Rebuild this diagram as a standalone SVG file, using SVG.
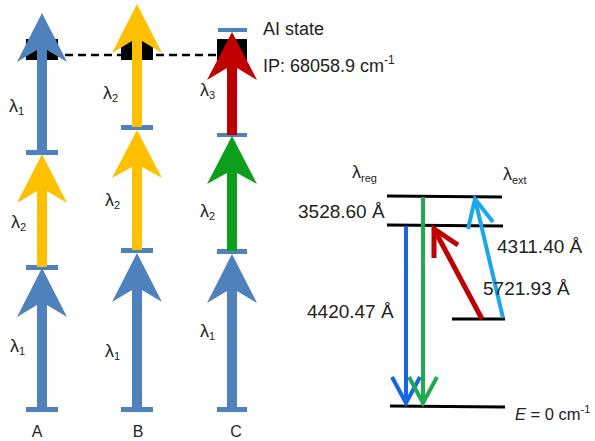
<svg xmlns="http://www.w3.org/2000/svg" width="595" height="441" viewBox="0 0 595 441">
<style>
  .bg{fill:#ffffff}
  .blue{fill:#4F81BD}
  .yellow{fill:#FFC000}
  .red{fill:#C00000}
  .green{fill:#0E9E1E}
  .bar{fill:#4F81BD}
  .sq{fill:#000000}
  .dash{stroke:#000;stroke-width:2.5;stroke-dasharray:8 5;fill:none}
  .lvl{stroke:#000;stroke-width:3;fill:none}
  text{font-family:"Liberation Sans",Arial,sans-serif;fill:#222}
  .lam{font-size:18px}
  .sub{font-size:11px}
  .lab{font-size:16px}
  .val{font-size:19px}
  .info{font-size:18px}
  .tr{fill:none;stroke-linecap:butt;stroke-linejoin:miter}
</style>
<rect class="bg" x="0" y="0" width="595" height="441"/>

<g id="ip-line">
  <line class="dash" x1="26" y1="55" x2="247" y2="55"/>
</g>

<g id="column-A">
  <rect class="sq" x="26" y="39" width="32" height="21"/>
  <rect class="bar" x="26" y="407" width="32" height="5"/>
  <rect class="bar" x="26" y="265" width="32" height="5"/>
  <rect class="bar" x="26" y="150" width="32" height="5"/>
  <polygon class="blue" points="42,268 67,317 47,305 47,409 37,409 37,305 17,317"/>
  <polygon class="yellow" points="42,154 67,203 47,191 47,267 37,267 37,191 17,203"/>
  <polygon class="blue" points="42,13 67,62 47,50 47,152 37,152 37,50 17,62"/>
  <text class="lam" x="9" y="112">λ<tspan class="sub" dy="3">1</tspan></text>
  <text class="lam" x="11" y="228">λ<tspan class="sub" dy="3">2</tspan></text>
  <text class="lam" x="10" y="352">λ<tspan class="sub" dy="3">1</tspan></text>
  <text class="lab" x="37" y="437" text-anchor="middle">A</text>
</g>

<g id="column-B">
  <rect class="sq" x="121" y="39" width="32" height="21"/>
  <rect class="bar" x="121" y="407" width="32" height="5"/>
  <rect class="bar" x="121" y="248" width="32" height="5"/>
  <rect class="bar" x="121" y="125" width="32" height="5"/>
  <polygon class="blue" points="137,253 162,302 142,290 142,409 132,409 132,290 112,302"/>
  <polygon class="yellow" points="137,130 162,178 142,167 142,250 132,250 132,167 112,178"/>
  <polygon class="yellow" points="137,4 162,53 142,41 142,127 132,127 132,41 112,53"/>
  <text class="lam" x="103" y="99">λ<tspan class="sub" dy="3">2</tspan></text>
  <text class="lam" x="105" y="206">λ<tspan class="sub" dy="3">2</tspan></text>
  <text class="lam" x="105" y="357">λ<tspan class="sub" dy="3">1</tspan></text>
  <text class="lab" x="138" y="437" text-anchor="middle">B</text>
</g>

<g id="column-C">
  <rect class="sq" x="217" y="39" width="30" height="21"/>
  <rect class="bar" x="217" y="407" width="30" height="5"/>
  <rect class="bar" x="217" y="249" width="30" height="5"/>
  <rect class="bar" x="217" y="133" width="30" height="4"/>
  <rect class="bar" x="218" y="28" width="29" height="4"/>
  <polygon class="blue" points="232,254 257,303 237,291 237,409 227,409 227,291 207,303"/>
  <polygon class="green" points="232,136 257,184 237,173 237,251 227,251 227,173 207,184"/>
  <polygon class="red" points="232,32 257,80 237,68 237,135 227,135 227,68 207,80"/>
  <text class="lam" x="200" y="96">λ<tspan class="sub" dy="3">3</tspan></text>
  <text class="lam" x="200" y="217">λ<tspan class="sub" dy="3">2</tspan></text>
  <text class="lam" x="200" y="337">λ<tspan class="sub" dy="3">1</tspan></text>
  <text class="lab" x="236" y="437" text-anchor="middle">C</text>
</g>

<g id="labels-top">
  <text class="info" x="263" y="35">AI state</text>
  <text class="info" x="263" y="72">IP: 68058.9 cm<tspan font-size="12" dy="-8">-1</tspan></text>
</g>

<g id="levels">
  <line class="lvl" x1="387" y1="196" x2="502" y2="197"/>
  <line class="lvl" x1="387" y1="225" x2="503" y2="226"/>
  <line class="lvl" x1="452" y1="319" x2="505" y2="319"/>
  <line class="lvl" x1="390" y1="406" x2="505" y2="407"/>
</g>

<g id="connectors">
  <g stroke="#1565E8" stroke-width="4" class="tr">
    <line x1="406" y1="226" x2="406" y2="403"/>
    <polyline points="392,377 406,403 420,377"/>
  </g>
  <g stroke="#1FAA50" stroke-width="4" class="tr">
    <line x1="423" y1="197" x2="423" y2="403"/>
    <polyline points="409,377 423,403 437,377"/>
  </g>
  <g stroke="#C00000" stroke-width="5" class="tr">
    <line x1="482" y1="319" x2="434" y2="229"/>
    <polyline points="434,258 434,229 458,245"/>
  </g>
  <g stroke="#1AA7EC" stroke-width="4" class="tr">
    <line x1="503" y1="318" x2="475" y2="199"/>
    <polyline points="468,229 475,199 493,222"/>
  </g>
</g>

<g id="labels-right">
  <text class="lam" x="352" y="178">λ<tspan class="sub" dy="4">reg</tspan></text>
  <text class="lam" x="503" y="180">λ<tspan class="sub" dy="4">ext</tspan></text>
  <text class="val" x="298" y="218">3528.60 Å</text>
  <text class="val" x="497" y="253">4311.40 Å</text>
  <text class="val" x="483" y="295">5721.93 Å</text>
  <text class="val" x="307" y="318">4420.47 Å</text>
  <text font-size="16.5" x="515" y="420"><tspan font-style="italic">E</tspan> = 0 cm<tspan font-size="11" dy="-7">-1</tspan></text>
</g>
</svg>
